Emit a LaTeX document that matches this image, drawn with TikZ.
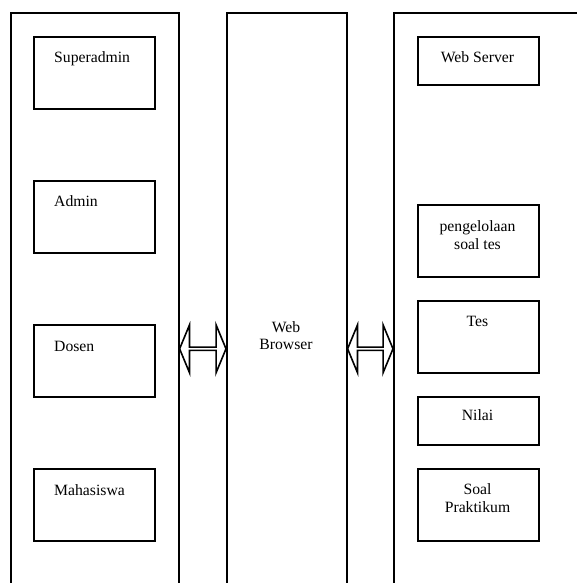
\documentclass[tikz,border=0pt]{standalone}
\usepackage{fontspec}
\setmainfont{Liberation Serif}
\newfontfamily\lblfont{Liberation Serif}
\usetikzlibrary{shapes.arrows,calc}

\tikzset{
  col/.style={draw, line width=1.6pt, rectangle, anchor=north west, inner sep=0pt, minimum height=672},
  box/.style={draw, line width=1.6pt, rectangle, anchor=north west, inner sep=0pt, minimum width=121},
  lbl/.style={inner sep=0pt, font=\lblfont\fontsize{15.7}{18.5}\selectfont},
  dblarrow/.style={draw, line width=1.6pt, double arrow, inner sep=0pt,
    minimum width=48, double arrow head extend=11, double arrow tip angle=135},
}

\begin{document}
\begin{tikzpicture}[x=1pt, y=-1pt]
  \useasboundingbox (0,0) rectangle (577,583);

  % three tiers
  \node[col, minimum width=168] (colL) at (10,12) {};
  \node[col, minimum width=120] (colM) at (226,12) {};
  \node[col, minimum width=300] (colR) at (393,12) {};

  % users
  \node[box, minimum height=72] (superadmin) at (33,36) {};
  \node[box, minimum height=72] (admin) at (33,180) {};
  \node[box, minimum height=72] (dosen) at (33,324) {};
  \node[box, minimum height=72] (mahasiswa) at (33,468) {};
  \node[lbl, anchor=base west] (superadmin-t) at (54,63) {Superadmin};
  \node[lbl, anchor=base west] (admin-t) at (54,206.5) {Admin};
  \node[lbl, anchor=base west] (dosen-t) at (54,351) {Dosen};
  \node[lbl, anchor=base west] (mahasiswa-t) at (54,495) {Mahasiswa};

  % browser
  \node[lbl, anchor=base] (web-t) at (286,332) {Web};
  \node[lbl, anchor=base] (browser-t) at (286,349) {Browser};

  % server side
  \node[box, minimum height=48] (server) at (417,36) {};
  \node[box, minimum height=72] (kelola) at (417,204) {};
  \node[box, minimum height=72] (tes) at (417,300) {};
  \node[box, minimum height=48] (nilai) at (417,396) {};
  \node[box, minimum height=72] (praktikum) at (417,468) {};
  \node[lbl, anchor=base] (server-t) at (477.5,63) {Web Server};
  \node[lbl, anchor=base] (kelola-t1) at (477.5,231) {pengelolaan};
  \node[lbl, anchor=base] (kelola-t2) at (477.5,249.5) {soal tes};
  \node[lbl, anchor=base] (tes-t) at (477.5,326.5) {Tes};
  \node[lbl, anchor=base] (nilai-t) at (477.5,420) {Nilai};
  \node[lbl, anchor=base] (praktikum-t1) at (477.5,494.5) {Soal};
  \node[lbl, anchor=base] (praktikum-t2) at (477.5,512.5) {Praktikum};

  % two-way links between the tiers
  \path let \p1=(colL.east), \p2=(colM.west) in
    node[dblarrow, minimum height={\x2-\x1}] (linkL) at ($(colL.east)!0.5!(colM.west)$) {};
  \path let \p1=(colM.east), \p2=(colR.west) in
    node[dblarrow, minimum height={\x2-\x1}] (linkR) at ($(colM.east)!0.5!(colR.west)$) {};
\end{tikzpicture}
\end{document}
